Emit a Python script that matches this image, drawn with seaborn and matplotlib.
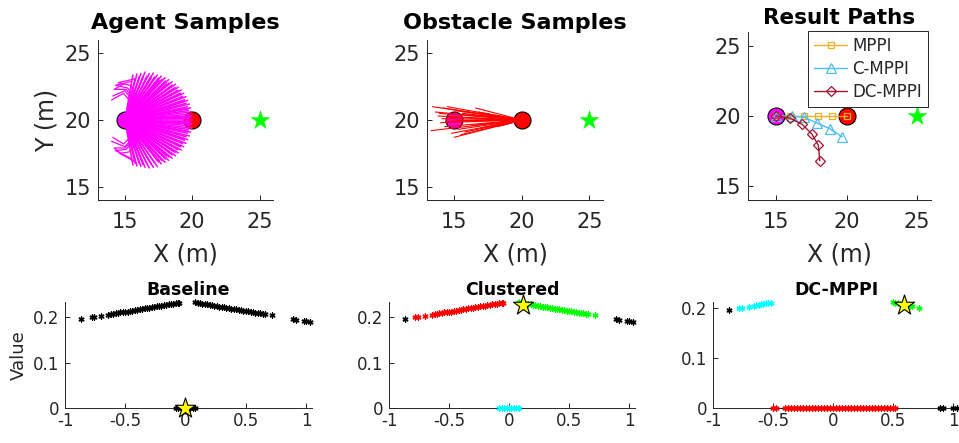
import numpy as np
import pandas as pd
import matplotlib
matplotlib.use("Agg")
import matplotlib.pyplot as plt
import seaborn as sns

# positions of agent, obstacle and goal (m)
agent_pos = (15, 20)
obstacle_pos = (20, 20)
goal_pos = (25, 20)

# agent sample rollouts: end points of the fan (start at the agent)
agent_end_x = [15.59, 15.89, 16.19, 16.50, 16.81, 17.11, 17.41, 17.70, 17.98, 18.25, 18.51,
               18.75, 18.97, 19.18, 19.37, 19.53, 19.67, 19.79, 19.88, 19.95, 19.99, 20.00,
               19.99, 19.95, 19.88, 19.79, 19.67, 19.53, 19.37, 19.18, 18.97, 18.75, 18.51,
               18.25, 17.98, 17.70, 17.41, 17.11, 16.81, 16.50, 16.19, 15.89, 15.59,
               16.07, 16.36, 16.64, 16.93, 17.21, 17.49, 17.76, 18.02, 18.27, 18.51, 18.73,
               18.93, 19.12, 19.28, 19.43, 19.55, 19.65, 19.72, 19.77, 19.80,
               19.80, 19.77, 19.72, 19.65, 19.55, 19.43, 19.28, 19.12, 18.93, 18.73, 18.51,
               18.27, 18.02, 17.76, 17.49, 17.21, 16.93, 16.64, 16.36, 16.07,
               15.75, 16.35, 16.95, 17.55, 18.10, 18.62, 19.05, 19.45, 19.72, 19.90,
               19.90, 19.72, 19.45, 19.05, 18.62, 18.10, 17.55, 16.95, 16.35, 15.75]
agent_end_y = [23.38, 23.45, 23.49, 23.60, 23.49, 23.52, 23.38, 23.29, 23.17, 23.03, 22.87,
               22.68, 22.47, 22.25, 22.01, 21.75, 21.48, 21.20, 20.91, 20.61, 20.31, 20.00,
               19.69, 19.39, 19.09, 18.80, 18.52, 18.25, 17.99, 17.75, 17.53, 17.32, 17.13,
               16.97, 16.83, 16.71, 16.50, 16.45, 16.40, 16.45, 16.51, 16.55, 16.62,
               23.27, 23.30, 23.30, 23.27, 23.22, 23.15, 23.05, 22.93, 22.78, 22.62, 22.43,
               22.23, 22.01, 21.77, 21.52, 21.26, 20.99, 20.71, 20.43, 20.14,
               19.86, 19.57, 19.29, 19.01, 18.74, 18.48, 18.23, 17.99, 17.77, 17.57, 17.38,
               17.22, 17.07, 16.95, 16.85, 16.78, 16.73, 16.70, 16.70, 16.73,
               23.10, 23.20, 23.15, 22.95, 22.70, 22.35, 21.95, 21.40, 20.85, 20.25,
               19.75, 19.15, 18.60, 18.05, 17.65, 17.30, 16.95, 16.70, 16.65, 16.75]

# agent rollouts that hook back behind the agent
agent_hooks = [
    ([15.0, 15.9, 15.0, 14.1], [20.0, 21.0, 22.2, 21.8]),
    ([15.0, 16.0, 15.2, 14.3, 15.5], [20.0, 21.2, 22.4, 22.6, 22.9]),
    ([15.0, 16.1, 15.4, 14.5, 15.8], [20.0, 21.4, 22.6, 22.8, 23.1]),
    ([15.0, 15.8, 14.9, 14.0], [20.0, 20.9, 22.0, 21.5]),
    ([15.0, 15.95, 15.1, 14.2, 14.9], [20.0, 21.1, 22.3, 22.3, 22.7]),
    ([15.0, 15.9, 15.0, 14.0], [20.0, 19.0, 18.0, 18.4]),
    ([15.0, 16.0, 15.1, 14.3, 15.5], [20.0, 18.8, 17.8, 17.7, 17.1]),
    ([15.0, 16.1, 15.3, 14.6, 15.7], [20.0, 18.6, 17.6, 17.5, 16.9]),
    ([15.0, 15.8, 14.9, 14.1], [20.0, 19.1, 18.2, 18.7]),
    ([15.0, 15.95, 15.0, 14.2, 14.8], [20.0, 18.9, 17.9, 17.9, 17.4]),
]

# obstacle sample rollouts: end points (start at the obstacle)
obs_end_x = [13.4, 13.3, 13.6, 13.8, 14.0, 14.2, 14.3, 14.5, 14.6, 14.8, 15.0, 15.1, 15.3, 15.5,
             15.6, 15.8, 16.0, 16.3, 16.6, 17.0, 17.4, 18.2, 18.6, 14.1, 14.4, 13.9, 15.2, 16.8]
obs_end_y = [21.0, 19.2, 20.6, 20.3, 19.8, 20.9, 19.5, 21.0, 20.2, 19.0, 18.7, 20.7, 19.3, 18.9,
             20.5, 19.1, 20.4, 19.6, 20.9, 19.4, 20.3, 19.5, 19.6, 20.1, 19.9, 20.5, 20.0, 20.6]

# result paths
mppi_x = [15.0, 16.0, 17.0, 18.0, 19.0, 20.0]
mppi_y = [20.0, 20.0, 20.0, 20.0, 20.0, 20.0]
cmppi_x = [15.0, 16.1, 17.0, 17.9, 18.8, 19.7]
cmppi_y = [20.0, 20.0, 19.9, 19.5, 19.1, 18.5]
dcmppi_x = [15.0, 16.0, 16.85, 17.55, 18.0, 18.1]
dcmppi_y = [20.0, 19.85, 19.4, 18.7, 17.9, 16.8]

# bottom row: sample values
left_x = [-0.87, -0.78, -0.76, -0.70, -0.64, -0.62, -0.60, -0.58, -0.56, -0.54, -0.52, -0.50,
          -0.48, -0.46, -0.44, -0.42, -0.40, -0.38, -0.36, -0.34, -0.32, -0.30, -0.28, -0.26,
          -0.24, -0.22, -0.20, -0.18, -0.16, -0.14, -0.12, -0.10, -0.08, -0.06, -0.05]
left_y = [0.196, 0.200, 0.201, 0.204, 0.206, 0.207, 0.208, 0.209, 0.210, 0.211, 0.212, 0.2125,
          0.213, 0.214, 0.215, 0.216, 0.217, 0.218, 0.219, 0.220, 0.2206, 0.2215, 0.2224, 0.2233,
          0.2242, 0.2251, 0.226, 0.2269, 0.2278, 0.2287, 0.2296, 0.2305, 0.2314, 0.2323, 0.2328]
right_x = [0.08, 0.10, 0.12, 0.14, 0.16, 0.18, 0.20, 0.22, 0.24, 0.26, 0.28, 0.30, 0.32, 0.34,
           0.36, 0.38, 0.40, 0.42, 0.44, 0.46, 0.48, 0.50, 0.52, 0.54, 0.56, 0.58, 0.60, 0.62,
           0.64, 0.66, 0.72, 0.89, 0.92, 0.98, 1.00, 1.03]
right_y = [0.233, 0.232, 0.2312, 0.2303, 0.2294, 0.2285, 0.2276, 0.2267, 0.2258, 0.2249, 0.224,
           0.2231, 0.2222, 0.2213, 0.2204, 0.2195, 0.2186, 0.2177, 0.2168, 0.2159, 0.215, 0.2141,
           0.2132, 0.2123, 0.2114, 0.2105, 0.2096, 0.2087, 0.2078, 0.2069, 0.2042, 0.1966, 0.1952,
           0.1925, 0.1916, 0.1903]
zero_x = [-0.08, -0.06, -0.04, -0.02, 0.0, 0.02, 0.04, 0.06, 0.08]
baseline_star = (0.0, 0.0)
clustered_star = (0.12, 0.228)

dc_black_x = [-0.87, 0.89, 0.92, 1.00, 1.03]
dc_black_y = [0.197, 0.0, 0.0, 0.0, 0.0]
dc_cyan_x = [-0.78, -0.76, -0.70, -0.66, -0.64, -0.62, -0.60, -0.58, -0.56, -0.54, -0.52]
dc_cyan_y = [0.200, 0.201, 0.203, 0.205, 0.206, 0.207, 0.208, 0.209, 0.2095, 0.210, 0.211]
dc_green_x = [0.50, 0.52, 0.54, 0.56, 0.58, 0.60, 0.62, 0.64, 0.66, 0.72]
dc_green_y = [0.212, 0.211, 0.210, 0.209, 0.208, 0.207, 0.206, 0.205, 0.204, 0.201]
dc_red_x = [-0.500, -0.475, -0.400, -0.375, -0.350, -0.325, -0.300, -0.275, -0.250, -0.225,
            -0.200, -0.175, -0.150, -0.125, -0.100, -0.075, -0.050, -0.025, 0.000, 0.025,
            0.050, 0.075, 0.100, 0.125, 0.150, 0.175, 0.200, 0.225, 0.250, 0.275, 0.300,
            0.325, 0.350, 0.375, 0.400, 0.425, 0.450, 0.475, 0.500, 0.520]
dc_star = (0.59, 0.207)

INK = "#262626"
MAGENTA = "#FF00FF"
RED = "#FF0000"
GREEN = "#00FF00"
CYAN = "#00FFFF"
ASTERISK = (6, 2, 0)

sns.set_theme(style="ticks")
plt.rcParams["font.family"] = ["DejaVu Sans"]
plt.rcParams["axes.edgecolor"] = INK
plt.rcParams["xtick.color"] = INK
plt.rcParams["ytick.color"] = INK
plt.rcParams["axes.labelcolor"] = INK


def style_axes(ax, tick_size, xpad, ypad):
    sns.despine(ax=ax)
    for s in ["left", "bottom"]:
        ax.spines[s].set_linewidth(0.7)
    ax.tick_params(direction="in", length=3.5, width=0.7, labelsize=tick_size)
    ax.tick_params(axis="x", pad=xpad)
    ax.tick_params(axis="y", pad=ypad)


def draw_markers(ax):
    sns.scatterplot(x=[agent_pos[0]], y=[agent_pos[1]], s=150, color=MAGENTA,
                    edgecolor="black", linewidth=0.8, ax=ax, zorder=2)
    sns.scatterplot(x=[obstacle_pos[0]], y=[obstacle_pos[1]], s=150, color=RED,
                    edgecolor="black", linewidth=0.8, ax=ax, zorder=2)
    sns.scatterplot(x=[goal_pos[0]], y=[goal_pos[1]], marker="*", s=200, color=GREEN,
                    edgecolor=GREEN, linewidth=0.3, ax=ax, zorder=4)


def top_frame(ax, title, title_size, pad):
    ax.set_xlim(13, 26)
    ax.set_ylim(14, 26)
    ax.set_xticks([15, 20, 25])
    ax.set_yticks([15, 20, 25])
    ax.set_xlabel("X (m)", fontsize=17, labelpad=7)
    ax.set_title(title, fontsize=title_size, fontweight="bold", color="black", pad=pad)
    style_axes(ax, 15, 9, 5)


def bottom_frame(ax, title, ytop):
    ax.set_xlim(-1, 1.05)
    ax.set_ylim(0, ytop)
    ax.set_xticks([-1, -0.5, 0, 0.5, 1])
    ax.set_xticklabels(["-1", "-0.5", "0", "0.5", "1"])
    ax.set_yticks([0, 0.1, 0.2])
    ax.set_yticklabels(["0", "0.1", "0.2"])
    ax.set_title(title, fontsize=12.5, fontweight="bold", color="black", pad=5)
    ax.set_xlabel("")
    ax.set_ylabel("")
    style_axes(ax, 12, 3, 4)


def stars(ax, x, y, color):
    sns.scatterplot(x=x, y=y, marker=ASTERISK, s=13, color=color, linewidth=1.0,
                    ax=ax, zorder=3)


W, H = 959, 443
fig = plt.figure(figsize=(W / 100, H / 100), dpi=100)


def px_axes(left, top, right, bottom):
    return fig.add_axes([left / W, 1 - bottom / H, (right - left) / W, (bottom - top) / H])


ax1 = px_axes(98, 40, 273, 200)
ax2 = px_axes(427, 40, 603, 200)
ax3 = px_axes(748, 32, 931, 200)
ax4 = px_axes(65, 302, 312, 408)
ax5 = px_axes(389, 302, 635, 408)
ax6 = px_axes(713, 302, 959, 408)

# agent samples
draw_markers(ax1)
for ex, ey in zip(agent_end_x, agent_end_y):
    ax1.plot([agent_pos[0], ex], [agent_pos[1], ey], color=MAGENTA, lw=1.1, zorder=3)
for hx, hy in agent_hooks:
    ax1.plot(hx, hy, color=MAGENTA, lw=0.9, zorder=3)
top_frame(ax1, "Agent Samples", 16, 8)
ax1.set_ylabel("Y (m)", fontsize=17, labelpad=4)

# obstacle samples
draw_markers(ax2)
for ex, ey in zip(obs_end_x, obs_end_y):
    ax2.plot([obstacle_pos[0], ex], [obstacle_pos[1], ey], color=RED, lw=0.8, zorder=3)
top_frame(ax2, "Obstacle Samples", 16, 8)

# result paths
draw_markers(ax3)
paths = pd.DataFrame({
    "x": mppi_x + cmppi_x + dcmppi_x,
    "y": mppi_y + cmppi_y + dcmppi_y,
    "method": ["MPPI"] * 6 + ["C-MPPI"] * 6 + ["DC-MPPI"] * 6,
})
path_style = {"MPPI": ("#EDB120", "s", 5), "C-MPPI": ("#4DBEEE", "^", 7),
              "DC-MPPI": ("#A2142F", "D", 5)}
for name, (c, m, ms) in path_style.items():
    d = paths[paths["method"] == name]
    sns.lineplot(data=d, x="x", y="y", sort=False, estimator=None, color=c, lw=1.0,
                 marker=m, ms=ms, markerfacecolor="none", markeredgecolor=c,
                 markeredgewidth=0.9, label=name, ax=ax3, zorder=3)
top_frame(ax3, "Result Paths", 15.5, 6)
ax3.set_ylabel("")
leg = ax3.legend(loc="upper right", bbox_to_anchor=(928 / W, 1 - 31 / H),
                 bbox_transform=fig.transFigure, borderaxespad=0, fontsize=12,
                 fancybox=False, framealpha=1, edgecolor=INK, handlelength=2.0,
                 handletextpad=0.3, labelspacing=0.3, borderpad=0.35)
leg.get_frame().set_linewidth(0.7)

# baseline
stars(ax4, left_x + right_x + zero_x, left_y + right_y + [0.0] * len(zero_x), "black")
sns.scatterplot(x=[baseline_star[0]], y=[baseline_star[1]], marker="*", s=230, color="#FFFF00",
                edgecolor="black", linewidth=0.8, ax=ax4, zorder=5, clip_on=False)
bottom_frame(ax4, "Baseline", 0.234)
ax4.set_ylabel("Value", fontsize=13, labelpad=4)

# clustered
rx = np.array(right_x)
ry = np.array(right_y)
stars(ax5, left_x[1:], left_y[1:], RED)
stars(ax5, list(rx[rx < 0.8]), list(ry[rx < 0.8]), GREEN)
stars(ax5, [left_x[0]] + list(rx[rx > 0.8]), [left_y[0]] + list(ry[rx > 0.8]), "black")
stars(ax5, zero_x, [0.0] * len(zero_x), CYAN)
sns.scatterplot(x=[clustered_star[0]], y=[clustered_star[1]], marker="*", s=230, color="#FFFF00",
                edgecolor="black", linewidth=0.8, ax=ax5, zorder=5, clip_on=False)
bottom_frame(ax5, "Clustered", 0.234)

# dc-mppi
stars(ax6, dc_black_x, dc_black_y, "black")
stars(ax6, dc_cyan_x, dc_cyan_y, CYAN)
stars(ax6, dc_green_x, dc_green_y, GREEN)
stars(ax6, dc_red_x, [0.0] * len(dc_red_x), RED)
sns.scatterplot(x=[dc_star[0]], y=[dc_star[1]], marker="*", s=230, color="#FFFF00",
                edgecolor="black", linewidth=0.8, ax=ax6, zorder=5, clip_on=False)
bottom_frame(ax6, "DC-MPPI", 0.212)

for ax in [ax4, ax5, ax6]:
    for coll in ax.collections:
        coll.set_clip_on(False)

fig.savefig("out.png", dpi=100)
